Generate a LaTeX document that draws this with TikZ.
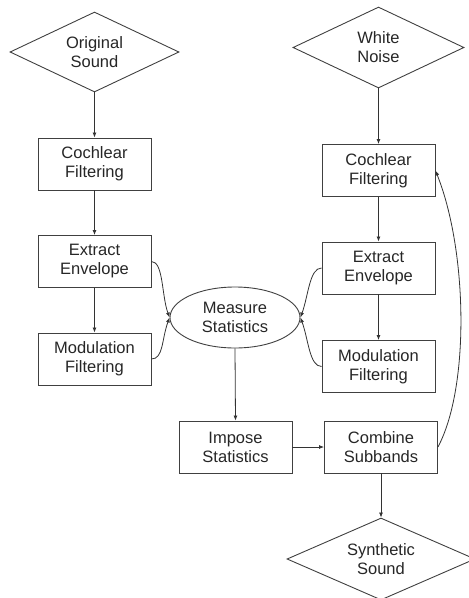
\documentclass[tikz,border=0pt]{standalone}
\usepackage{fontspec}
\setmainfont{Liberation Sans}
\usetikzlibrary{shapes.geometric,arrows.meta}
\begin{document}
\begin{tikzpicture}[x=1pt,y=-1pt,
  every node/.style={font=\fontsize{16.5}{19}\selectfont, text=black!85, align=center, draw=black!75, line width=0.9pt, inner sep=0pt},
  box/.style={rectangle, minimum width=113pt, minimum height=52pt},
  dia/.style={diamond, shape aspect=2.1},
  ell/.style={ellipse, minimum width=130pt, minimum height=61pt},
  conn/.style={draw=black!80, line width=0.8pt, -{Latex[length=5pt,width=4pt]}}
]
\useasboundingbox (0,0) rectangle (469,598);
\node[dia, minimum width=169pt, minimum height=80pt] (orig) at (94.5,52) {Original\\Sound};
\node[dia, minimum width=171pt, minimum height=81pt] (noise) at (378.5,47.5) {White\\Noise};
\node[box] (cochL) at (94.5,164) {Cochlear\\Filtering};
\node[box] (extL) at (94.5,261.5) {Extract\\Envelope};
\node[box] (modL) at (94.5,359) {Modulation\\Filtering};
\node[box] (cochR) at (378.5,170.5) {Cochlear\\Filtering};
\node[box] (extR) at (378.5,268) {Extract\\Envelope};
\node[box] (modR) at (378.5,366.5) {Modulation\\Filtering};
\node[ell] (meas) at (235,317.5) {Measure\\Statistics};
\node[box] (imp) at (235.5,447) {Impose\\Statistics};
\node[box] (comb) at (381,447) {Combine\\Subbands};
\node[dia, minimum width=188pt, minimum height=82pt] (synth) at (381,559) {Synthetic\\Sound};

\draw[conn] (orig.south) -- (cochL.north);
\draw[conn] (cochL.south) -- (extL.north);
\draw[conn] (extL.south) -- (modL.north);
\draw[conn] (noise.south) -- (cochR.north);
\draw[conn] (cochR.south) -- (extR.north);
\draw[conn] (extR.south) -- (modR.north);
\draw[conn] (extL.east) .. controls +(12,0) and +(-8,-22) .. (meas.west);
\draw[conn] (modL.east) .. controls +(12,0) and +(-8,22) .. (meas.west);
\draw[conn] (extR.west) .. controls +(-12,0) and +(8,-22) .. (meas.east);
\draw[conn] (modR.west) .. controls +(-12,0) and +(8,22) .. (meas.east);
\draw[conn] (meas.south) -- (imp.north);
\draw[conn] (imp.east) -- (comb.west);
\draw[conn] (comb.south) -- (synth.north);
\draw[conn] (comb.east) .. controls +(32,-60) and +(32,80) .. (cochR.east);
\end{tikzpicture}
\end{document}
